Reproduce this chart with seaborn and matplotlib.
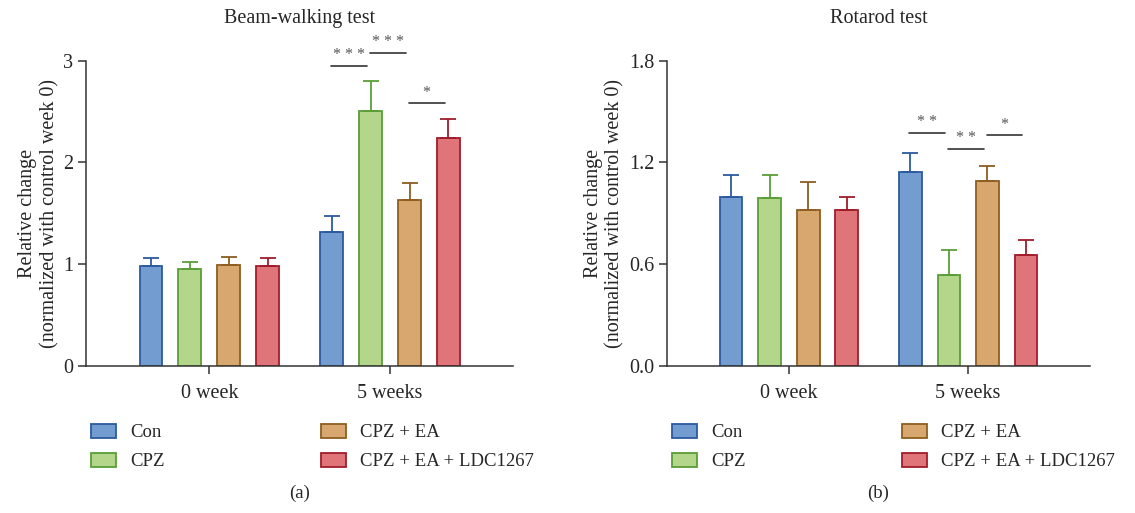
import numpy as np
import pandas as pd
import seaborn as sns
import matplotlib
matplotlib.use("Agg")
import matplotlib.pyplot as plt

sns.set_style("white")
plt.rcParams['font.family'] = ['Liberation Serif', 'DejaVu Serif']

weeks = ["0 week", "5 weeks"]
groups = ["Con", "CPZ", "CPZ + EA", "CPZ + EA + LDC1267"]

beam_mean = {"Con": [0.98, 1.32], "CPZ": [0.95, 2.51], "CPZ + EA": [0.99, 1.63], "CPZ + EA + LDC1267": [0.98, 2.24]}
beam_err = {"Con": [0.08, 0.15], "CPZ": [0.07, 0.29], "CPZ + EA": [0.08, 0.17], "CPZ + EA + LDC1267": [0.08, 0.19]}
rota_mean = {"Con": [0.994, 1.141], "CPZ": [0.99, 0.534], "CPZ + EA": [0.921, 1.092], "CPZ + EA + LDC1267": [0.921, 0.653]}
rota_err = {"Con": [0.132, 0.117], "CPZ": [0.136, 0.147], "CPZ + EA": [0.163, 0.089], "CPZ + EA + LDC1267": [0.077, 0.091]}

# significance: (group i, group j, line height, label) at 5 weeks
beam_sig = [(0, 1, 2.95, "* * *"), (1, 2, 3.08, "* * *"), (2, 3, 2.58, "*")]
rota_sig = [(0, 1, 1.375, "* *"), (1, 2, 1.281, "* *"), (2, 3, 1.362, "*")]

fills = ["#739CD0", "#B3D68B", "#D8A76F", "#DF7579"]
edges = ["#2C5A9E", "#5A9E38", "#8E5E20", "#A01C2C"]

fig = plt.figure(figsize=(11.35, 5.13), dpi=100)
ax1 = fig.add_axes([86/1135, 1-366/513, (513-86)/1135, (366-60.7)/513])
ax2 = fig.add_axes([666.7/1135, 1-366/513, (1090-666.7)/1135, (366-60.7)/513])

FS = 14.5
LFS = 13.5

def panel(ax, means, errs, sigs, ymax, yticks, yticklabels, title, tag, legx):
    rows = []
    for g in groups:
        for w, v in zip(weeks, means[g]):
            rows.append({"week": w, "group": g, "value": v})
    df = pd.DataFrame(rows)
    sns.barplot(data=df, x="week", y="value", hue="group", hue_order=groups,
                order=weeks, palette=fills, width=0.86, gap=0.41,
                errorbar=None, ax=ax, legend=False, saturation=1)
    bars = list(ax.containers)
    for gi, cont in enumerate(bars):
        for wi, bar in enumerate(cont):
            bar.set_edgecolor(edges[gi])
            bar.set_linewidth(1.3)
            cx = bar.get_x() + bar.get_width() / 2
            h = bar.get_height()
            ax.errorbar(cx, h, yerr=[[0], [errs[groups[gi]][wi]]], color=edges[gi],
                        lw=1.3, capsize=6, capthick=1.3, zorder=1)
    # significance lines at 5 weeks
    centers = [bars[gi][1].get_x() + bars[gi][1].get_width() / 2 for gi in range(4)]
    for i, j, y, lab in sigs:
        x0 = centers[i] - 0.005
        x1 = centers[j] - 0.02
        ax.plot([x0, x1], [y, y], color="#333333", lw=1.2, clip_on=False)
        ax.text((x0 + x1) / 2, y + ymax * 0.008, lab, ha="center", va="bottom",
                fontsize=11.5, color="#555555", clip_on=False)
    ax.set_xlim(-0.682, 1.68)
    ax.set_ylim(0, ymax)
    ax.set_yticks(yticks)
    ax.set_yticklabels(yticklabels)
    ax.set_xlabel("")
    ax.set_ylabel("Relative change\n(normalized with control week 0)", fontsize=FS, labelpad=3,
                  linespacing=1.2)
    ax.set_title(title, fontsize=FS, pad=27)
    for s in ["top", "right"]:
        ax.spines[s].set_visible(False)
    for s in ["left", "bottom"]:
        ax.spines[s].set_color("#333333")
        ax.spines[s].set_linewidth(1.1)
    ax.tick_params(axis="both", labelsize=FS, length=6, width=1.1, color="#333333",
                   left=True, bottom=True, direction="out")
    ax.tick_params(axis="x", pad=7)
    ax.tick_params(axis="y", pad=3)
    fig.legend(bars, groups, loc="center left", bbox_to_anchor=(legx, 1 - 447/513),
               ncol=2, frameon=False, fontsize=LFS, handlelength=1.35, handleheight=0.8,
               handletextpad=0.75, labelspacing=0.62, columnspacing=8.3, borderpad=0,
               borderaxespad=0)
    pos = ax.get_position()
    fig.text((pos.x0 + pos.x1) / 2, 1 - 493/513, tag, ha="center", va="center", fontsize=LFS)

panel(ax1, beam_mean, beam_err, beam_sig, 3, [0, 1, 2, 3], ["0", "1", "2", "3"],
      "Beam-walking test", "(a)", 91/1135)
panel(ax2, rota_mean, rota_err, rota_sig, 1.8, [0, 0.6, 1.2, 1.8], ["0.0", "0.6", "1.2", "1.8"],
      "Rotarod test", "(b)", 672/1135)

fig.savefig("out.png", dpi=100)
